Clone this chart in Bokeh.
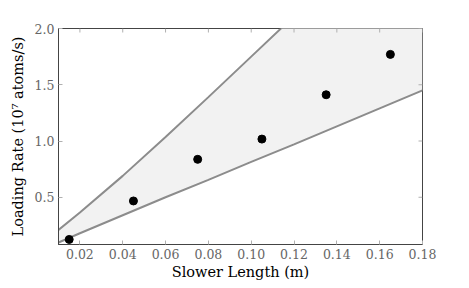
import math
from bokeh.plotting import figure
from bokeh.models import Range1d, FixedTicker, ColumnDataSource, CustomJSTickFormatter
from bokeh.embed import file_html
from bokeh.resources import INLINE

# data
slower_length = [0.015, 0.045, 0.075, 0.105, 0.135, 0.165]
loading_rate = [0.125, 0.467, 0.837, 1.017, 1.411, 1.77]

band_x = [0.01, 0.02, 0.04, 0.06, 0.08, 0.10, 0.12, 0.14, 0.16, 0.18]
band_upper = [0.21, 0.365, 0.69, 1.035, 1.39, 1.75, 2.11, 2.47, 2.83, 3.19]
band_lower = [0.098, 0.18, 0.34, 0.50, 0.655, 0.815, 0.97, 1.13, 1.29, 1.45]

x_ticks = [0.02, 0.04, 0.06, 0.08, 0.10, 0.12, 0.14, 0.16, 0.18]
y_ticks = [0.5, 1.0, 1.5, 2.0]
x_min, x_max = 0.01, 0.18
y_min, y_max = 0.08, 2.0

FONT = "DejaVu Serif"

p = figure(frame_width=364, frame_height=216, output_backend="svg", toolbar_location=None,
           x_range=Range1d(x_min, x_max), y_range=Range1d(y_min, y_max),
           min_border_left=58, min_border_right=38, min_border_top=28, min_border_bottom=40)

band = ColumnDataSource(dict(x=band_x, upper=band_upper, lower=band_lower))
p.varea(x="x", y1="lower", y2="upper", source=band, fill_color="#f2f2f2")
p.line(x="x", y="upper", source=band, line_color="#8c8c8c", line_width=2)
p.line(x="x", y="lower", source=band, line_color="#8c8c8c", line_width=2)
p.scatter(slower_length, loading_rate, size=8, fill_color="black", line_color="black")

# inward ticks on the top and right edges
TICK_COLOR = "#b0b0b0"
p.ray(x=x_ticks, y=[y_max] * len(x_ticks), length=4, length_units="screen",
      angle=-math.pi / 2, line_color=TICK_COLOR, line_width=1)
p.ray(x=[x_max] * len(y_ticks), y=y_ticks, length=4, length_units="screen",
      angle=math.pi, line_color=TICK_COLOR, line_width=1)

p.xgrid.visible = False
p.ygrid.visible = False
p.outline_line_color = "#444444"
p.outline_line_width = 1

p.xaxis.ticker = FixedTicker(ticks=x_ticks)
p.yaxis.ticker = FixedTicker(ticks=y_ticks)
p.xaxis.formatter = CustomJSTickFormatter(code="return tick.toFixed(2);")
p.yaxis.formatter = CustomJSTickFormatter(code="return tick.toFixed(1);")

for ax in (p.xaxis[0], p.yaxis[0]):
    ax.major_tick_in = 4
    ax.major_tick_out = 0
    ax.minor_tick_in = 0
    ax.minor_tick_out = 0
    ax.axis_line_color = "#444444"
    ax.major_tick_line_color = TICK_COLOR
    ax.major_label_text_font = FONT
    ax.major_label_text_font_size = "12.5px"
    ax.major_label_text_color = "#666666"
    ax.axis_label_text_font = FONT
    ax.axis_label_text_font_size = "14.5px"
    ax.axis_label_text_font_style = "normal"
    ax.axis_label_text_color = "black"
    ax.major_label_standoff = 4

p.xaxis.axis_label = "Slower Length (m)"
p.yaxis.axis_label = "Loading Rate (10\u2077 atoms/s)"
p.xaxis.axis_label_standoff = 2
p.yaxis.axis_label_standoff = 6

open("out.html", "w").write(file_html(p, INLINE))
